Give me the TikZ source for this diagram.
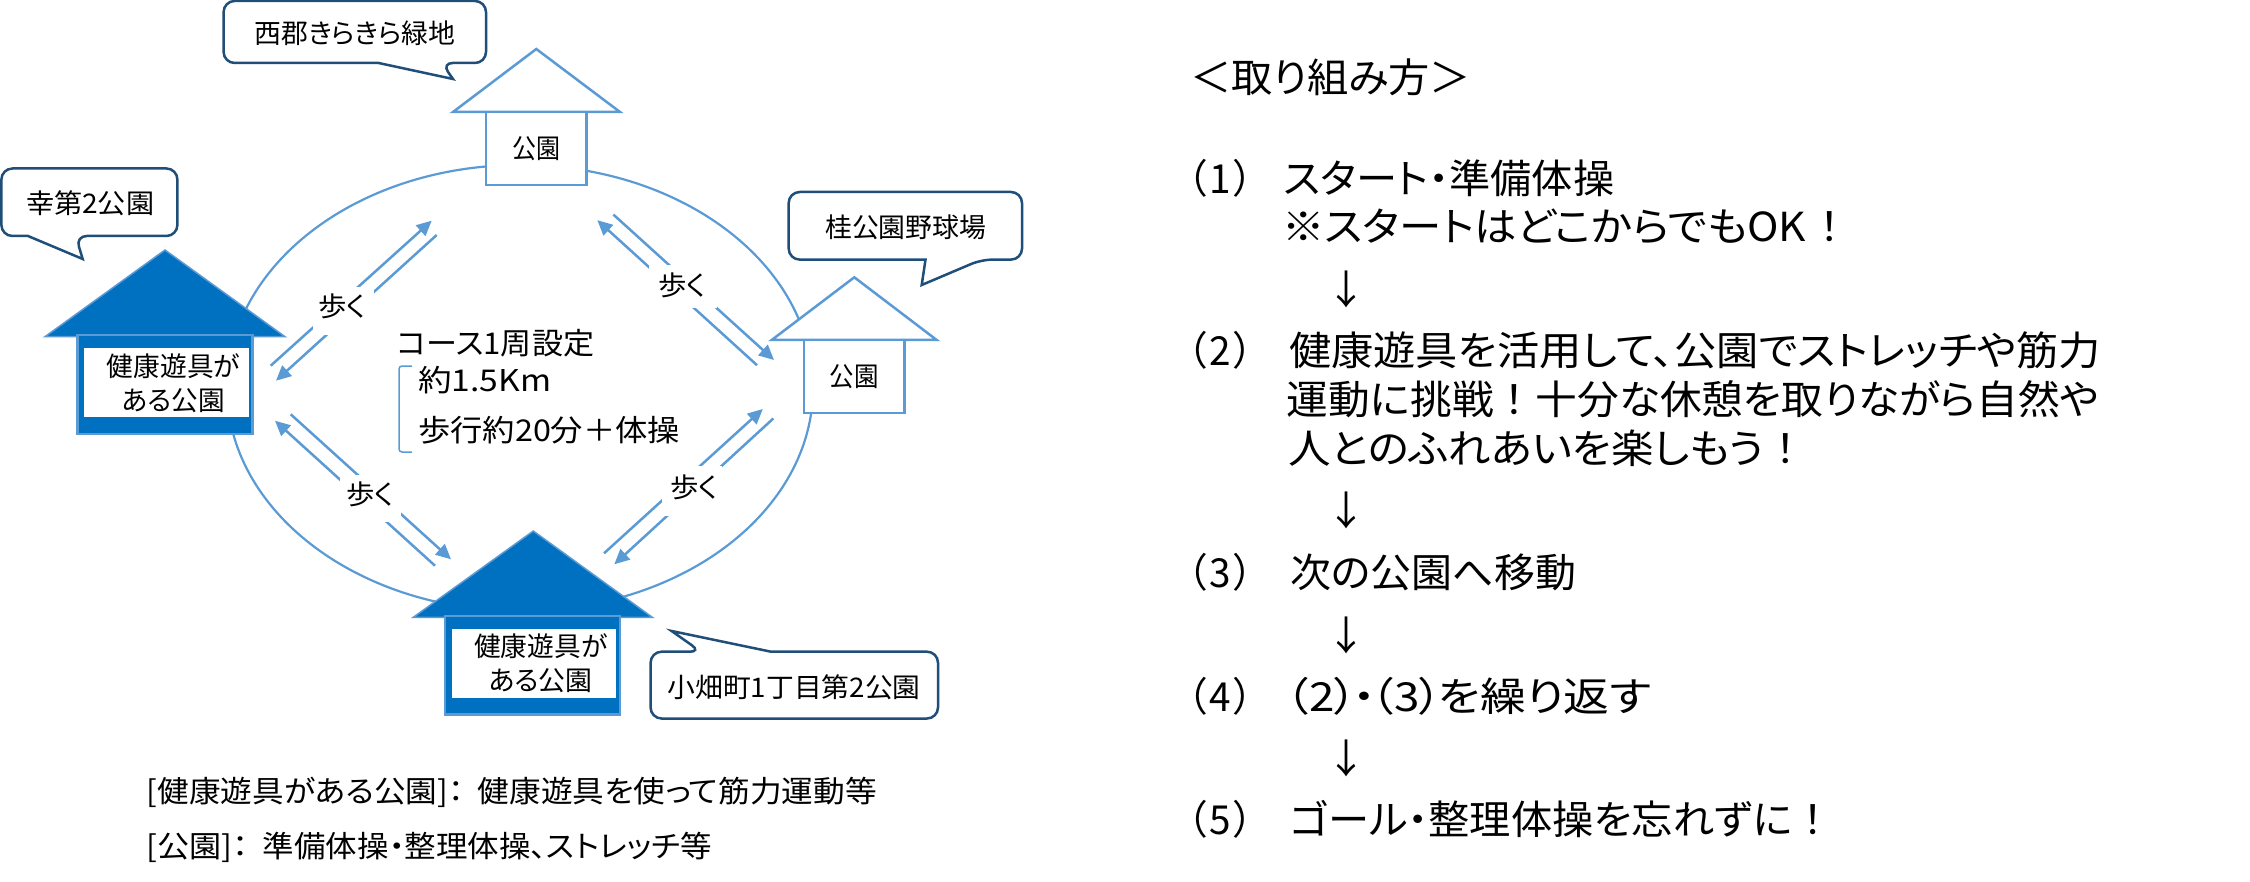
\documentclass[tikz,border=0pt]{standalone}
\usepackage{fontspec}
\usepackage{graphicx}
\usetikzlibrary{arrows.meta}
\setmainfont{Noto Sans CJK JP}[RawFeature=+palt]
\newcommand{\W}[2]{\resizebox{#1pt}{\height}{#2}}
\definecolor{lineblue}{HTML}{5B9BD5}
\definecolor{solidblue}{HTML}{0070C0}
\definecolor{calloutblue}{HTML}{1F4E79}
\tikzset{
  bigtext/.style={anchor=base west,inner sep=0pt,yshift=-14.5pt,font=\fontsize{40}{48}\selectfont},
  midtext/.style={anchor=base west,inner sep=0pt,yshift=-11pt,font=\fontsize{30}{36}\selectfont},
  smalltext/.style={anchor=base west,inner sep=0pt,yshift=-10pt,font=\fontsize{27}{32}\selectfont},
  downmark/.style={anchor=center,inner sep=0pt,font=\fontsize{40}{48}\selectfont},
  walklabel/.style={anchor=center,inner sep=0pt,font=\fontsize{27}{32}\selectfont},
  parkbody/.style={draw=lineblue,line width=2.5pt,fill=white,inner sep=0pt,font=\fontsize{27}{32}\selectfont},
  roofline/.style={draw=lineblue,line width=2.5pt,fill=white,line join=miter},
  roofsolid/.style={draw=lineblue,line width=1.5pt,fill=solidblue},
  bodysolid/.style={draw=lineblue,line width=2.5pt,fill=solidblue},
  callout/.style={draw=calloutblue,line width=2.5pt,fill=white,rounded corners=11pt},
  course/.style={draw=lineblue,line width=2.2pt},
  walkline/.style={draw=lineblue,line width=2.5pt,-{Triangle[length=15pt,width=14pt]}},
}
\begin{document}
\begin{tikzpicture}[x=1pt,y=-1pt]
\useasboundingbox[fill=white] (0,0) rectangle (2250,882);
% course
\draw[course] (520,388) ellipse [x radius=293,y radius=223];
% named ends of walking arrows
\coordinate (tlA) at (270.7,365.7); \coordinate (tlB) at (431.7,220.7);
\coordinate (tlC) at (436.7,235); \coordinate (tlD) at (276,380.7);
\coordinate (trA) at (757,365.2); \coordinate (trB) at (597.3,220.2);
\coordinate (trC) at (613.4,214.6); \coordinate (trD) at (774,360);
\coordinate (brA) at (604,553.3); \coordinate (brB) at (762.8,409);
\coordinate (brC) at (773.3,418.5); \coordinate (brD) at (614.3,564.3);
\coordinate (blA) at (435,565.7); \coordinate (blB) at (275,420.7);
\coordinate (blC) at (290.7,414.3); \coordinate (blD) at (451,559.3);
\draw[walkline] (tlA) -- (tlB);
\draw[walkline] (tlC) -- (tlD);
\draw[walkline] (trA) -- (trB);
\draw[walkline] (trC) -- (trD);
\draw[walkline] (brA) -- (brB);
\draw[walkline] (brC) -- (brD);
\draw[walkline] (blA) -- (blB);
\draw[walkline] (blC) -- (blD);
\fill[white] (313,287) rectangle (374,335);
\fill[white] (648.5,265) rectangle (716.5,308);
\fill[white] (662,466) rectangle (722,516);
\fill[white] (340,475) rectangle (401,522);
\node[walklabel] (walkTL) at (342,306.7) {\W{48}{歩く}};
\node[walklabel] (walkTR) at (682,285) {\W{48}{歩く}};
\node[walklabel] (walkBR) at (694,487) {\W{48}{歩く}};
\node[walklabel] (walkBL) at (370,494) {\W{48}{歩く}};
% top park
\draw[roofline] (536.3,49) -- (620,112) -- (453,112) -- cycle;
\node[parkbody,minimum width=100.7pt,minimum height=73pt] (parkTop) at (536.3,148.5) {\W{48}{公園}};
% right park
\draw[roofline] (854.3,277.3) -- (936.7,340) -- (771.7,340) -- cycle;
\node[parkbody,minimum width=100.3pt,minimum height=72.7pt] (parkRight) at (854.2,376.4) {\W{49}{公園}};
% left park
\draw[roofsolid] (165,250) -- (285,336.7) -- (45,336.7) -- cycle;
\draw[bodysolid] (77.7,335) rectangle (252.3,434);
\fill[white] (84,348.3) rectangle (248.7,416.7);
\node[smalltext] (leftA) at (106.7,366.7) {\W{133}{健康遊具が}};
\node[smalltext] (leftB) at (121.7,400) {\W{103}{ある公園}};
% bottom park
\draw[roofsolid] (533.3,531) -- (652.3,617.3) -- (413.3,617.3) -- cycle;
\draw[bodysolid] (445,616) rectangle (620,714.7);
\fill[white] (451.7,629.3) rectangle (616,698.3);
\node[smalltext] (botA) at (474,646.7) {\W{133}{健康遊具が}};
\node[smalltext] (botB) at (488.3,680) {\W{104}{ある公園}};
% callouts
\draw[callout] (300,1) -- (486,1) -- (486,63) -- (441.7,63) [sharp corners] -- (453,79) -- (378.6,63) [rounded corners=11pt] -- (223.6,63) -- (223.6,1) -- cycle;
\node[smalltext] (nameTop) at (254.5,33.7) {\W{201}{西郡きらきら緑地}};
\draw[callout] (90,168.5) -- (177.4,168.5) -- (177.4,236) -- (75.7,236) [sharp corners] -- (82.7,259) -- (28,236) [rounded corners=11pt] -- (1.4,236) -- (1.4,168.5) -- cycle;
\node[smalltext] (nameLeft) at (26,203.4) {\W{128}{幸第2公園}};
\draw[callout] (900,192) -- (1022,192) -- (1022,259.6) -- (981.5,259.6) [sharp corners] -- (921.7,285) -- (925.5,259.6) [rounded corners=11pt] -- (788.7,259.6) -- (788.7,192) -- cycle;
\node[smalltext] (nameRight) at (825,228) {\W{161}{桂公園野球場}};
\draw[callout] (800,651.7) -- (938,651.7) -- (938,718.5) -- (650.6,718.5) -- (650.6,651.7) -- (701,651.7) [sharp corners] -- (671.6,631) -- (771,651.7) [rounded corners=11pt] -- cycle;
\node[smalltext] (nameBot) at (667.4,687.6) {\W{253}{小畑町1丁目第2公園}};
% centre text
\node[midtext] (cA) at (397,343) {\W{197}{コース1周設定}};
\node[midtext] (cB) at (418,380) {\W{133}{約1.5Km}};
\node[midtext] (cC) at (418,430) {\W{262}{歩行約20分＋体操}};
\draw[draw=lineblue,line width=1.5pt,rounded corners=3pt] (412,366) -- (399,366) -- (399,452) -- (412,452);
% footnotes
\node[midtext] (noteA) at (146.7,791.7) {\W{317}{[健康遊具がある公園]：}\hspace{14pt}\W{399}{健康遊具を使って筋力運動等}};
\node[midtext] (noteB) at (146.7,846.7) {\W{102}{[公園]：}\hspace{14pt}\W{449}{準備体操・整理体操、ストレッチ等}};
% right column
\node[bigtext] (hd) at (1190,78) {\W{281}{＜取り組み方＞}};
\node[bigtext] (n1) at (1187,179) {\W{66}{（\kern3pt 1\kern3pt）}};
\node[bigtext] (s1a) at (1283,179) {\W{331}{スタート・準備体操}};
\node[bigtext] (s1b) at (1282,227.5) {\W{558}{※スタートはどこからでもOK\kern.3em！}};
\node[downmark] (d1) at (1346.7,289) {↓};
\node[bigtext] (n2) at (1187,351) {\W{66}{（\kern3pt 2\kern3pt）}};
\node[bigtext] (s2a) at (1289,351) {\W{812}{健康遊具を活用して、公園でストレッチや筋力}};
\node[bigtext] (s2b) at (1286.7,400) {\W{812}{運動に挑戦\kern.25em！\kern.25em十分な休憩を取りながら自然や}};
\node[bigtext] (s2c) at (1288,449.4) {\W{508}{人とのふれあいを楽しもう\kern.25em！}};
\node[downmark] (d2) at (1346.7,510) {↓};
\node[bigtext] (n3) at (1187,573) {\W{66}{（\kern3pt 3\kern3pt）}};
\node[bigtext] (s3) at (1290,573) {\W{286}{次の公園へ移動}};
\node[downmark] (d3) at (1346.7,635) {↓};
\node[bigtext] (n4) at (1187,697) {\W{66}{（\kern3pt 4\kern3pt）}};
\node[bigtext] (s4) at (1286,697) {\W{365}{（2）\kern-.1em・\kern-.1em（3）\kern-.1emを繰り返す}};
\node[downmark] (d4) at (1346.7,758.3) {↓};
\node[bigtext] (n5) at (1187,820) {\W{66}{（\kern3pt 5\kern3pt）}};
\node[bigtext] (s5) at (1290,820) {\W{533}{ゴール・整理体操を忘れずに\kern.25em！}};
\end{tikzpicture}
\end{document}
